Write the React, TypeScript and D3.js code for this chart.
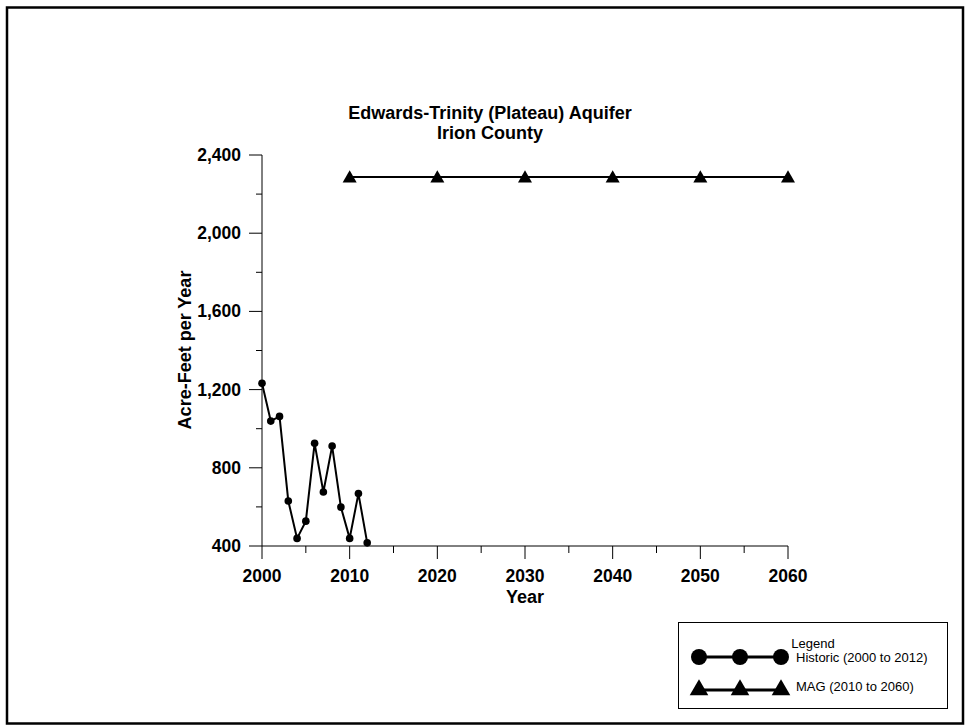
import React, { useEffect, useRef } from 'react'
import * as d3 from 'd3'

// historic pumping, acre-feet per year
const historicYears = [2000, 2001, 2002, 2003, 2004, 2005, 2006, 2007, 2008, 2009, 2010, 2011, 2012]
const historicValues = [1232, 1039, 1063, 630, 439, 527, 925, 676, 911, 599, 439, 668, 416]

// modeled available groundwater
const magYears = [2010, 2020, 2030, 2040, 2050, 2060]
const magValues = [2288, 2288, 2288, 2288, 2288, 2288]

const xTicks = [2000, 2010, 2020, 2030, 2040, 2050, 2060]
const xMinorTicks = [2005, 2015, 2025, 2035, 2045, 2055]
const yTicks = [400, 800, 1200, 1600, 2000, 2400]
const yMinorTicks = [600, 1000, 1400, 1800, 2200]

const titleLines = ['Edwards-Trinity (Plateau) Aquifer', 'Irion County']
const legendLabels = ['Historic (2000 to 2012)', 'MAG (2010 to 2060)']

const FONT = '"Liberation Sans", Arial, Helvetica, sans-serif'

export default function App() {
  const ref = useRef<SVGSVGElement>(null)

  useEffect(() => {
    const svg = d3.select(ref.current)
    svg.selectAll('*').remove()

    const x = d3.scaleLinear().domain([2000, 2060]).range([262, 788])
    const y = d3.scaleLinear().domain([400, 2400]).range([546, 155])

    // outer frame
    svg.append('rect').attr('x', 7).attr('y', 7.5).attr('width', 956).attr('height', 716)
      .attr('fill', 'white').attr('stroke', 'black').attr('stroke-width', 2.5)

    // title
    svg.selectAll('.title').data(titleLines).join('text').attr('class', 'title')
      .attr('x', 490).attr('y', (d, i) => 113 + i * 20)
      .attr('text-anchor', 'middle').attr('dominant-baseline', 'central')
      .attr('font-family', FONT).attr('font-weight', 'bold').attr('font-size', 18)
      .text(d => d)

    // axes
    const g = svg.append('g')
    g.append('line').attr('x1', x(2000)).attr('x2', x(2060)).attr('y1', y(400)).attr('y2', y(400))
      .attr('stroke', 'black').attr('stroke-width', 1)
    g.append('line').attr('x1', x(2000)).attr('x2', x(2000)).attr('y1', y(400)).attr('y2', y(2400))
      .attr('stroke', 'black').attr('stroke-width', 1)

    g.selectAll('.xmaj').data(xTicks).join('line').attr('class', 'xmaj')
      .attr('x1', d => x(d)).attr('x2', d => x(d)).attr('y1', y(400)).attr('y2', y(400) + 13)
      .attr('stroke', 'black')
    g.selectAll('.xmin').data(xMinorTicks).join('line').attr('class', 'xmin')
      .attr('x1', d => x(d)).attr('x2', d => x(d)).attr('y1', y(400)).attr('y2', y(400) + 7)
      .attr('stroke', 'black')
    g.selectAll('.xlab').data(xTicks).join('text').attr('class', 'xlab')
      .attr('x', d => x(d)).attr('y', 576).attr('text-anchor', 'middle').attr('dominant-baseline', 'central')
      .attr('font-family', FONT).attr('font-weight', 'bold').attr('font-size', 17.5)
      .text(d => d)

    g.selectAll('.ymaj').data(yTicks).join('line').attr('class', 'ymaj')
      .attr('x1', x(2000) - 13).attr('x2', x(2000)).attr('y1', d => y(d)).attr('y2', d => y(d))
      .attr('stroke', 'black')
    g.selectAll('.ymin').data(yMinorTicks).join('line').attr('class', 'ymin')
      .attr('x1', x(2000) - 6).attr('x2', x(2000)).attr('y1', d => y(d)).attr('y2', d => y(d))
      .attr('stroke', 'black')
    g.selectAll('.ylab').data(yTicks).join('text').attr('class', 'ylab')
      .attr('x', 241).attr('y', d => y(d)).attr('text-anchor', 'end').attr('dominant-baseline', 'central')
      .attr('font-family', FONT).attr('font-weight', 'bold').attr('font-size', 17.5)
      .text(d => d3.format(',')(d))

    svg.append('text').text('Year').attr('x', 525).attr('y', 597)
      .attr('text-anchor', 'middle').attr('dominant-baseline', 'central')
      .attr('font-family', FONT).attr('font-weight', 'bold').attr('font-size', 18)
    svg.append('text').text('Acre-Feet per Year')
      .attr('transform', `translate(185, 350) rotate(-90)`)
      .attr('text-anchor', 'middle').attr('dominant-baseline', 'central')
      .attr('font-family', FONT).attr('font-weight', 'bold').attr('font-size', 18)

    // historic series
    const hist = historicYears.map((yr, i) => [yr, historicValues[i]] as [number, number])
    const line = d3.line<[number, number]>().x(d => x(d[0])).y(d => y(d[1]))
    svg.append('path').datum(hist).attr('d', line).attr('fill', 'none')
      .attr('stroke', 'black').attr('stroke-width', 2)
    svg.selectAll('.hpt').data(hist).join('circle').attr('class', 'hpt')
      .attr('cx', d => x(d[0])).attr('cy', d => y(d[1])).attr('r', 3.8).attr('fill', 'black')

    // MAG series
    const mag = magYears.map((yr, i) => [yr, magValues[i]] as [number, number])
    svg.append('path').datum(mag).attr('d', line).attr('fill', 'none')
      .attr('stroke', 'black').attr('stroke-width', 2)
    const tri = d3.symbol().type(d3.symbolTriangle).size(85)
    svg.selectAll('.mpt').data(mag).join('path').attr('class', 'mpt')
      .attr('d', tri).attr('transform', d => `translate(${x(d[0])}, ${y(d[1]) + 1.5})`).attr('fill', 'black')

    // legend
    const lg = svg.append('g')
    lg.append('rect').attr('x', 678.5).attr('y', 622.5).attr('width', 269).attr('height', 86)
      .attr('fill', 'white').attr('stroke', 'black').attr('stroke-width', 1)
    lg.append('text').text('Legend').attr('x', 813).attr('y', 643)
      .attr('text-anchor', 'middle').attr('dominant-baseline', 'central')
      .attr('font-family', FONT).attr('font-size', 13)
    const lx = [699, 740, 781]
    const rowY = [657, 690]
    lg.append('line').attr('x1', lx[0]).attr('x2', lx[2]).attr('y1', rowY[0]).attr('y2', rowY[0])
      .attr('stroke', 'black').attr('stroke-width', 3)
    lg.selectAll('.lc').data(lx).join('circle').attr('class', 'lc')
      .attr('cx', d => d).attr('cy', rowY[0]).attr('r', 8).attr('fill', 'black')
    lg.append('line').attr('x1', lx[0]).attr('x2', lx[2]).attr('y1', rowY[1]).attr('y2', rowY[1])
      .attr('stroke', 'black').attr('stroke-width', 3)
    const bigTri = d3.symbol().type(d3.symbolTriangle).size(150)
    lg.selectAll('.lt').data(lx).join('path').attr('class', 'lt')
      .attr('d', bigTri).attr('transform', d => `translate(${d}, ${rowY[1]})`).attr('fill', 'black')
    lg.selectAll('.ltxt').data(legendLabels).join('text').attr('class', 'ltxt')
      .attr('x', 796).attr('y', (d, i) => [657, 686][i])
      .attr('dominant-baseline', 'central')
      .attr('font-family', FONT).attr('font-size', 13)
      .text(d => d)
  }, [])

  return (
    <svg ref={ref} width={966} height={726}
      style={{ position: 'absolute', left: 0, top: 0, background: 'white' }} />
  )
}
